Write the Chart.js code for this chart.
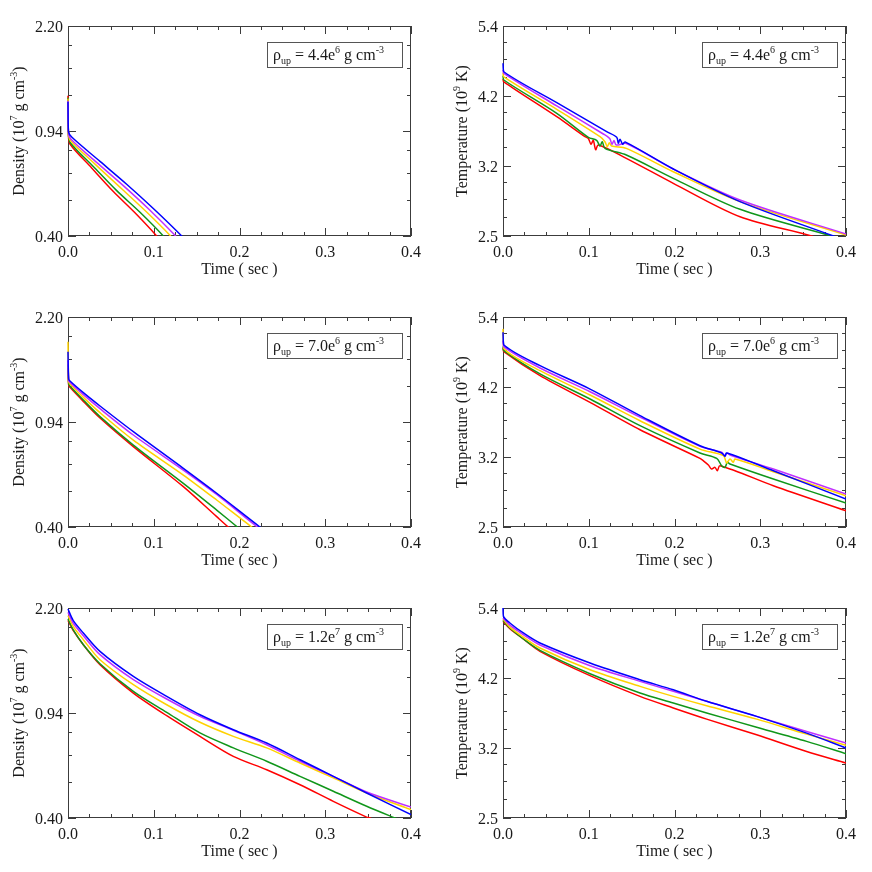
<!DOCTYPE html>
<html>
<head>
<meta charset="utf-8">
<script src="https://cdn.jsdelivr.net/npm/chart.js@4.4.1/dist/chart.umd.min.js"></script>
<style>
  html, body { margin: 0; padding: 0; background: #fff; }
  #wrap { position: relative; width: 872px; height: 872px; }
  #wrap canvas { position: absolute; }
</style>
</head>
<body>
<div id="wrap"></div>
<script>
// series order: blue, magenta, yellow, green, red (first one drawn on top)
const seriesNames = ['blue', 'magenta', 'yellow', 'green', 'red'];
const seriesColors = ['#0000ff', '#c030ff', '#ffd200', '#10961a', '#ff0000'];

const xTickVals = [0, 0.1, 0.2, 0.3, 0.4];
const densTickLabels = ['0.40', '0.94', '2.20'];
const tempTickLabels = ['2.5', '3.2', '4.2', '5.4'];
const rhoUpMantissa = ['4.4', '7.0', '1.2'];
const rhoUpExp = ['6', '6', '7'];

// [time (s), density (1e7 g/cm3)]
const densA = [
    [[0, 1.19], [0.0005, 0.935], [0.0043, 0.893], [0.0373, 0.733], [0.0684, 0.609], [0.0995, 0.50], [0.1326, 0.40], [0.14, 0.376]],
    [[0, 1.2], [0.0005, 0.925], [0.0035, 0.877], [0.0334, 0.727], [0.0645, 0.602], [0.0956, 0.493], [0.1256, 0.40], [0.133, 0.376]],
    [[0, 1.22], [0.0005, 0.92], [0.0031, 0.867], [0.0315, 0.717], [0.0626, 0.587], [0.0917, 0.486], [0.1197, 0.40], [0.127, 0.375]],
    [[0, 1.23], [0.0005, 0.915], [0.0027, 0.853], [0.0295, 0.703], [0.0568, 0.578], [0.084, 0.485], [0.1112, 0.40], [0.118, 0.375]],
    [[0, 1.25], [0.0005, 0.91], [0.0023, 0.844], [0.0276, 0.695], [0.0529, 0.574], [0.0781, 0.483], [0.1034, 0.40], [0.11, 0.375]]
];
const densB = [
    [[0, 1.66], [0.0008, 1.33], [0.0023, 1.308], [0.0179, 1.19], [0.0373, 1.068], [0.0762, 0.867], [0.1345, 0.644], [0.1734, 0.526], [0.2239, 0.40], [0.235, 0.38]],
    [[0, 1.55], [0.0008, 1.315], [0.0023, 1.294], [0.0179, 1.171], [0.0373, 1.045], [0.0762, 0.844], [0.1345, 0.635], [0.1734, 0.521], [0.2208, 0.40], [0.232, 0.38]],
    [[0, 1.80], [0.0008, 1.30], [0.0023, 1.277], [0.0179, 1.146], [0.0373, 1.012], [0.0762, 0.810], [0.1345, 0.610], [0.1734, 0.498], [0.2142, 0.40], [0.225, 0.38]],
    [[0, 1.5], [0.0008, 1.28], [0.0023, 1.256], [0.0179, 1.121], [0.0373, 0.980], [0.0762, 0.778], [0.1345, 0.570], [0.1734, 0.459], [0.1975, 0.40], [0.207, 0.38]],
    [[0, 1.45], [0.0008, 1.265], [0.0023, 1.243], [0.0179, 1.109], [0.0373, 0.969], [0.0762, 0.768], [0.1345, 0.555], [0.1734, 0.435], [0.187, 0.40], [0.197, 0.38]]
];
const densC = [
    [[0, 2.182], [0.006, 1.99], [0.0179, 1.796], [0.0373, 1.547], [0.0762, 1.263], [0.1151, 1.074], [0.1539, 0.925], [0.1928, 0.819], [0.2317, 0.735], [0.2706, 0.642], [0.3094, 0.561], [0.3483, 0.49], [0.4, 0.411]],
    [[0, 2.124], [0.006, 1.948], [0.0179, 1.757], [0.0373, 1.506], [0.0762, 1.23], [0.1151, 1.051], [0.1539, 0.913], [0.1928, 0.815], [0.2317, 0.725], [0.2706, 0.634], [0.3094, 0.561], [0.3483, 0.494], [0.4, 0.437]],
    [[0, 2.067], [0.006, 1.896], [0.0179, 1.701], [0.0373, 1.446], [0.0762, 1.181], [0.1151, 1.003], [0.1539, 0.87], [0.1928, 0.776], [0.2317, 0.707], [0.2706, 0.625], [0.3094, 0.554], [0.3483, 0.49], [0.4, 0.428]],
    [[0, 2.012], [0.006, 1.845], [0.0179, 1.633], [0.0373, 1.40], [0.0762, 1.118], [0.1151, 0.943], [0.1539, 0.798], [0.1928, 0.707], [0.2317, 0.634], [0.2706, 0.561], [0.3094, 0.497], [0.3483, 0.44], [0.3813, 0.40], [0.395, 0.385]],
    [[0, 1.99], [0.006, 1.835], [0.0179, 1.633], [0.0373, 1.389], [0.0762, 1.103], [0.1151, 0.918], [0.1539, 0.776], [0.1928, 0.66], [0.2317, 0.592], [0.2706, 0.524], [0.3094, 0.458], [0.3483, 0.403], [0.3522, 0.40], [0.365, 0.38]]
];

// [time (s), temperature (1e9 K)]
const tempA = [
    [[0, 4.71], [0.001, 4.566], [0.0627, 4.076], [0.1209, 3.665], [0.1326, 3.59], [0.1345, 3.512], [0.1364, 3.565], [0.1396, 3.50], [0.1423, 3.53], [0.1986, 3.196], [0.2764, 2.836], [0.3853, 2.50], [0.395, 2.47]],
    [[0, 4.6], [0.001, 4.54], [0.0627, 4.028], [0.117, 3.634], [0.1244, 3.575], [0.1271, 3.50], [0.1294, 3.55], [0.1321, 3.49], [0.1438, 3.51], [0.1986, 3.196], [0.2764, 2.853], [0.4, 2.519]],
    [[0, 4.55], [0.001, 4.48], [0.0627, 3.978], [0.1131, 3.598], [0.1189, 3.533], [0.1217, 3.468], [0.124, 3.52], [0.1267, 3.478], [0.1438, 3.448], [0.1986, 3.164], [0.2764, 2.836], [0.4, 2.509]],
    [[0, 4.5], [0.001, 4.43], [0.0627, 3.92], [0.0995, 3.59], [0.1092, 3.55], [0.1131, 3.478], [0.1158, 3.533], [0.1189, 3.448], [0.1438, 3.364], [0.1986, 3.089], [0.2764, 2.757], [0.3833, 2.50], [0.395, 2.475]],
    [[0, 4.45], [0.001, 4.40], [0.0627, 3.872], [0.0956, 3.598], [0.0995, 3.575], [0.1026, 3.50], [0.1053, 3.55], [0.1081, 3.43], [0.1112, 3.49], [0.1438, 3.324], [0.1986, 3.033], [0.2764, 2.683], [0.36, 2.50], [0.375, 2.45]]
];
const tempB = [
    [[0, 5.105], [0.001, 4.873], [0.0432, 4.517], [0.1015, 4.146], [0.1598, 3.761], [0.2297, 3.368], [0.255, 3.28], [0.2589, 3.239], [0.2608, 3.28], [0.3153, 3.073], [0.4, 2.769]],
    [[0, 4.95], [0.001, 4.84], [0.0432, 4.479], [0.1015, 4.106], [0.1598, 3.74], [0.2297, 3.36], [0.255, 3.288], [0.2589, 3.247], [0.2616, 3.28], [0.2647, 3.256], [0.3153, 3.092], [0.4, 2.821]],
    [[0, 5.17], [0.001, 4.81], [0.0432, 4.435], [0.1015, 4.056], [0.1598, 3.691], [0.2297, 3.327], [0.257, 3.247], [0.2608, 3.161], [0.2647, 3.208], [0.2686, 3.169], [0.2706, 3.208], [0.3153, 3.061], [0.4, 2.804]],
    [[0, 4.85], [0.001, 4.773], [0.0432, 4.382], [0.1015, 3.997], [0.1598, 3.625], [0.2297, 3.28], [0.2492, 3.216], [0.255, 3.13], [0.2589, 3.111], [0.2616, 3.169], [0.2647, 3.15], [0.3153, 2.981], [0.4, 2.729]],
    [[0, 4.82], [0.001, 4.755], [0.0432, 4.355], [0.1015, 3.949], [0.1598, 3.571], [0.2297, 3.216], [0.2336, 3.188], [0.2395, 3.138], [0.2433, 3.092], [0.2472, 3.111], [0.25, 3.073], [0.2531, 3.13], [0.3153, 2.908], [0.4, 2.653]]
];
const tempC = [
    [[0, 5.40], [0.0005, 5.237], [0.008, 5.111], [0.0237, 4.927], [0.0431, 4.749], [0.1015, 4.413], [0.1598, 4.151], [0.1986, 4.001], [0.2375, 3.835], [0.2958, 3.629], [0.3541, 3.413], [0.4, 3.232]],
    [[0, 5.206], [0.008, 5.07], [0.0237, 4.897], [0.0431, 4.715], [0.1015, 4.37], [0.1598, 4.126], [0.1986, 3.978], [0.2375, 3.835], [0.2958, 3.629], [0.3541, 3.434], [0.4, 3.291]],
    [[0, 5.187], [0.008, 5.035], [0.0237, 4.855], [0.0431, 4.664], [0.1015, 4.306], [0.1598, 4.051], [0.1986, 3.905], [0.2375, 3.774], [0.2958, 3.593], [0.3541, 3.40], [0.4, 3.263]],
    [[0, 5.161], [0.008, 5.018], [0.0237, 4.82], [0.0431, 4.623], [0.1015, 4.244], [0.1598, 3.953], [0.1986, 3.811], [0.2375, 3.674], [0.2958, 3.488], [0.3541, 3.311], [0.4, 3.165]],
    [[0, 5.142], [0.008, 5.006], [0.0237, 4.82], [0.0431, 4.607], [0.1015, 4.213], [0.1598, 3.905], [0.1986, 3.743], [0.2375, 3.593], [0.2958, 3.392], [0.3541, 3.191], [0.4, 3.059]]
];

const panels = [
    { kind: 'dens', row: 0, col: 0, data: densA },
    { kind: 'temp', row: 0, col: 1, data: tempA },
    { kind: 'dens', row: 1, col: 0, data: densB },
    { kind: 'temp', row: 1, col: 1, data: tempB },
    { kind: 'dens', row: 2, col: 0, data: densC },
    { kind: 'temp', row: 2, col: 1, data: tempC }
];

const fontFamily = "'Liberation Serif', 'Times New Roman', serif";
const textColor = '#1a1a1a';
const frameColor = '#3c3c3c';

Chart.defaults.font.family = fontFamily;
Chart.defaults.font.size = 16;
Chart.defaults.color = textColor;

// text pieces: [string, 'sup' | 'sub' | undefined]
function drawRich(ctx, parts, x, y, size, align) {
    const small = Math.round(size * 0.62);
    let total = 0;
    parts.forEach(p => {
        ctx.font = (p[1] ? small : size) + 'px ' + fontFamily;
        total += ctx.measureText(p[0]).width;
    });
    let cx = align === 'center' ? x - total / 2 : x;
    ctx.textAlign = 'left';
    ctx.textBaseline = 'alphabetic';
    parts.forEach(p => {
        ctx.font = (p[1] ? small : size) + 'px ' + fontFamily;
        let dy = 0;
        if (p[1] === 'sup') dy = -size * 0.42;
        if (p[1] === 'sub') dy = size * 0.22;
        ctx.fillText(p[0], cx, y + dy);
        cx += ctx.measureText(p[0]).width;
    });
}

const framePlugin = {
    id: 'frame',
    beforeDatasetsDraw(chart) {
        const { ctx, chartArea: a, scales } = chart;
        const x = scales.x, y = scales.y;
        ctx.save();
        ctx.strokeStyle = frameColor;
        ctx.lineWidth = 1;
        ctx.strokeRect(a.left + 0.5, a.top + 0.5, a.right - a.left - 1, a.bottom - a.top - 1);

        ctx.beginPath();
        // x ticks: 4 minor intervals per major, inward on bottom and top
        for (let i = 0; i < xTickVals.length; i++) {
            for (let k = 0; k < 4; k++) {
                if (k > 0 && i === xTickVals.length - 1) break;
                const v = xTickVals[i] + (k / 4) * 0.1;
                const px = Math.round(x.getPixelForValue(v)) + 0.5;
                const len = k === 0 ? 8 : 4;
                ctx.moveTo(px, a.bottom); ctx.lineTo(px, a.bottom - len);
                ctx.moveTo(px, a.top); ctx.lineTo(px, a.top + len);
            }
        }
        // y ticks: linear subdivisions between major ticks
        const vals = y.ticks.map(t => t.value);
        for (let i = 0; i < vals.length; i++) {
            for (let k = 0; k < 4; k++) {
                if (k > 0 && i === vals.length - 1) break;
                const v = vals[i] + (k / 4) * ((vals[i + 1] || 0) - vals[i]);
                const py = Math.round(y.getPixelForValue(v)) + 0.5;
                const len = k === 0 ? 8 : 4;
                ctx.moveTo(a.left, py); ctx.lineTo(a.left + len, py);
                ctx.moveTo(a.right, py); ctx.lineTo(a.right - len, py);
            }
        }
        ctx.stroke();
        ctx.restore();
    },
    afterDraw(chart) {
        const { ctx, chartArea: a } = chart;
        const cfg = chart.options.plugins.frame;
        ctx.save();
        ctx.fillStyle = textColor;
        // x title
        ctx.font = '16px ' + fontFamily;
        ctx.textAlign = 'center';
        ctx.textBaseline = 'middle';
        ctx.fillText('Time ( sec )', (a.left + a.right) / 2, a.bottom + 34);

        // y title, rotated
        ctx.save();
        ctx.translate(a.left - cfg.titleOffset, (a.top + a.bottom) / 2);
        ctx.rotate(-Math.PI / 2);
        drawRich(ctx, cfg.yTitle, 0, 5, 16, 'center');
        ctx.restore();

        // rho_up label box
        const bx = a.left + 199, by = a.top + 16, bw = 135, bh = 25;
        ctx.strokeStyle = '#555';
        ctx.lineWidth = 1;
        ctx.strokeRect(bx + 0.5, by + 0.5, bw, bh);
        ctx.fillStyle = textColor;
        drawRich(ctx, cfg.label, bx + 6, by + 18, 16, 'left');
        ctx.restore();
    }
};

const wrap = document.getElementById('wrap');
const cellW = 436, cellH = 291;

panels.forEach(p => {
    const canvas = document.createElement('canvas');
    canvas.width = cellW;
    canvas.height = cellH;
    canvas.style.left = (p.col * cellW) + 'px';
    canvas.style.top = (p.row * cellH) + 'px';
    wrap.appendChild(canvas);

    const isDens = p.kind === 'dens';
    const labels = isDens ? densTickLabels : tempTickLabels;
    const yMin = parseFloat(labels[0]);
    const yMax = parseFloat(labels[labels.length - 1]);
    const yTitle = isDens
        ? [['Density (10'], ['7', 'sup'], [' g cm'], ['-3', 'sup'], [')']]
        : [['Temperature (10'], ['9', 'sup'], [' K)']];
    const label = [['\u03c1'], ['up', 'sub'], [' = ' + rhoUpMantissa[p.row] + 'e'], [rhoUpExp[p.row], 'sup'], [' g cm'], ['-3', 'sup']];

    new Chart(canvas, {
        type: 'line',
        data: {
            datasets: p.data.map((pts, i) => ({
                label: seriesNames[i],
                data: pts.map(d => ({ x: d[0], y: d[1] })),
                borderColor: seriesColors[i],
                borderWidth: 1.5,
                pointRadius: 0,
                fill: false,
                tension: 0.3,
                clip: { left: 1, top: 0, right: 0, bottom: 0 }
            }))
        },
        options: {
            responsive: false,
            animation: false,
            devicePixelRatio: 1,
            layout: { padding: { top: 26, right: p.col === 0 ? 25 : 26, left: 0, bottom: 0 } },
            scales: {
                x: {
                    type: 'linear',
                    min: 0,
                    max: 0.4,
                    grid: { display: false, drawTicks: false },
                    border: { display: false },
                    afterBuildTicks: s => { s.ticks = xTickVals.map(v => ({ value: v })); },
                    afterFit: s => { s.height = 55; },
                    ticks: {
                        padding: 7,
                        maxRotation: 0,
                        autoSkip: false,
                        callback: v => v.toFixed(1)
                    }
                },
                y: {
                    type: 'logarithmic',
                    min: yMin,
                    max: yMax,
                    grid: { display: false, drawTicks: false },
                    border: { display: false },
                    afterBuildTicks: s => {
                        const n = labels.length;
                        s.ticks = labels.map((l, i) => ({ value: yMin * Math.pow(yMax / yMin, i / (n - 1)) }));
                    },
                    afterFit: s => { s.width = p.col === 0 ? 68 : 67; },
                    ticks: {
                        padding: 5,
                        autoSkip: false,
                        labelOffset: 1.5,
                        callback: (v, i) => labels[i]
                    }
                }
            },
            plugins: {
                legend: { display: false },
                tooltip: { enabled: false },
                frame: {
                    yTitle: yTitle,
                    label: label,
                    titleOffset: isDens ? 49 : 41
                }
            }
        },
        plugins: [framePlugin]
    });
});
</script>
</body>
</html>
